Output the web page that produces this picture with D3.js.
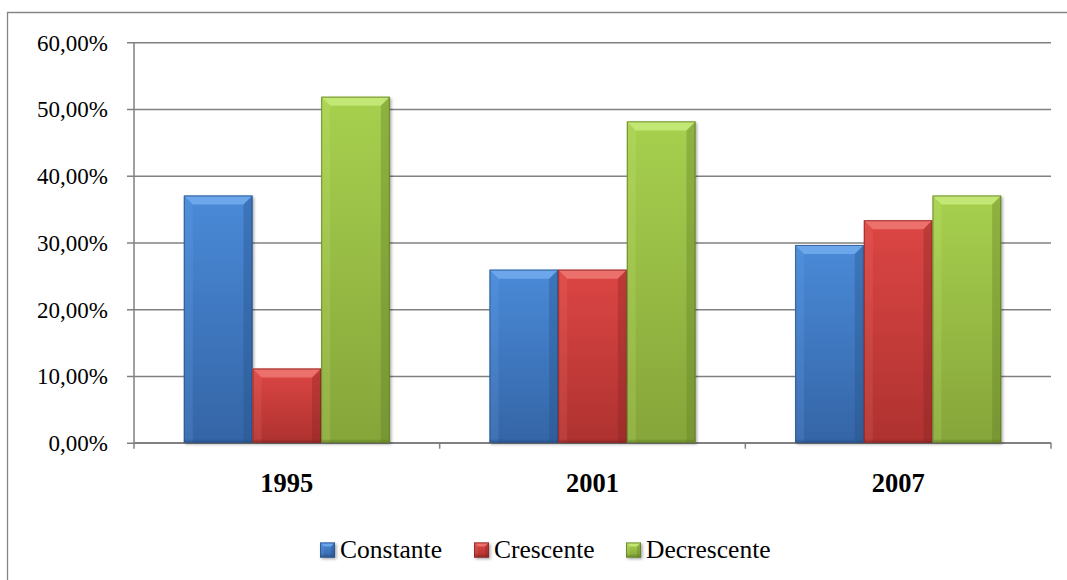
<!DOCTYPE html>
<html>
<head>
<meta charset="utf-8">
<script src="https://cdn.jsdelivr.net/npm/d3@7"></script>
<style>
  html, body { margin: 0; padding: 0; background: #fff; }
  svg { display: block; }
  text { font-family: "Liberation Serif", "Times New Roman", serif; fill: #000; }
</style>
</head>
<body>
<svg id="chart" width="1067" height="580"></svg>
<script>
// Share of municipalities by trend, per census year
const years = ["1995", "2001", "2007"];
const seriesNames = ["Constante", "Crescente", "Decrescente"];
const constante   = [0.3704, 0.2593, 0.2963];
const crescente   = [0.1111, 0.2593, 0.3333];
const decrescente = [0.5185, 0.4815, 0.3704];
const yTicks = [0, 0.1, 0.2, 0.3, 0.4, 0.5, 0.6];

const seriesValues = [constante, crescente, decrescente];
const palette = {
  Constante:   { top: "#4a8ad8", bottom: "#3465a6", bevel: "#76aef0", dark: "#264f85" },
  Crescente:   { top: "#dc4644", bottom: "#ae3230", bevel: "#f07a76", dark: "#852422" },
  Decrescente: { top: "#a7d04e", bottom: "#86a53a", bevel: "#cbec7e", dark: "#5f7a26" }
};

const svg = d3.select("#chart");
const defs = svg.append("defs");

const plot = { left: 134, right: 1051, top: 42.3, bottom: 442.7 };

const pt = d3.formatLocale({ decimal: ",", thousands: ".", grouping: [3], currency: ["", ""] });
const fmt = pt.format(".2%");

const x0 = d3.scaleBand().domain(years).range([plot.left, plot.right])
  .paddingInner(0.326).paddingOuter(0.163);
const x1 = d3.scaleBand().domain(seriesNames).range([0, x0.bandwidth()]).padding(0);
const y = d3.scaleLinear().domain([0, 0.6]).range([plot.bottom, plot.top]);

// gradients and shadow filter
seriesNames.forEach((s, i) => {
  const c = palette[s];
  const g = defs.append("linearGradient").attr("id", "grad" + i)
    .attr("x1", 0).attr("y1", 0).attr("x2", 0).attr("y2", 1);
  g.append("stop").attr("offset", "0%").attr("stop-color", c.top);
  g.append("stop").attr("offset", "100%").attr("stop-color", c.bottom);
});
const f = defs.append("filter").attr("id", "shadow")
  .attr("x", "-20%").attr("y", "-20%").attr("width", "140%").attr("height", "140%");
f.append("feGaussianBlur").attr("stdDeviation", 1.5);

// outer frame
svg.append("path")
  .attr("d", "M7.5,580 L7.5,12.5 L1067,12.5")
  .attr("fill", "none").attr("stroke", "#868686").attr("stroke-width", 1.3);

// horizontal gridlines + y ticks
const yAxis = d3.axisLeft(y).tickValues(yTicks).tickFormat(fmt)
  .tickSize(-(plot.right - plot.left)).tickPadding(0);
const gy = svg.append("g").attr("transform", `translate(${plot.left},0)`).call(yAxis);
gy.select(".domain").remove();
gy.selectAll(".tick line")
  .attr("x1", -7).attr("stroke", "#808080").attr("stroke-width", 1.5);
gy.selectAll(".tick text")
  .attr("x", -26).attr("dy", "0.34em")
  .style("font-family", "'Liberation Serif', 'Times New Roman', serif").style("font-size", "23px")
  .attr("fill", "#000");

// y axis line
svg.append("line")
  .attr("x1", plot.left).attr("x2", plot.left)
  .attr("y1", plot.top).attr("y2", plot.bottom)
  .attr("stroke", "#808080").attr("stroke-width", 1.5);

// x axis line and category separators
svg.append("line")
  .attr("x1", plot.left).attr("x2", plot.right)
  .attr("y1", plot.bottom).attr("y2", plot.bottom)
  .attr("stroke", "#808080").attr("stroke-width", 1.5);
const step = x0.step();
const sepX = years.map((d, i) => plot.left + i * step).concat([plot.right]);
svg.selectAll(".xsep").data(sepX).join("line")
  .attr("x1", d => d).attr("x2", d => d)
  .attr("y1", plot.bottom).attr("y2", plot.bottom + 6)
  .attr("stroke", "#808080").attr("stroke-width", 1.5);

// category labels
svg.selectAll(".cat").data(years).join("text")
  .attr("x", d => x0(d) + x0.bandwidth() / 2)
  .attr("y", 492)
  .attr("text-anchor", "middle")
  .style("font-size", "26.5px").style("font-weight", "bold")
  .text(d => d);

// bevelled bar drawing
function bevelBar(g, x, yTop, w, h, i, b) {
  const c = palette[seriesNames[i]];
  g.append("rect").attr("x", x + 1.5).attr("y", yTop + 1.5).attr("width", w).attr("height", h)
    .attr("fill", "rgba(0,0,0,0.35)").attr("filter", "url(#shadow)");
  g.append("rect").attr("x", x).attr("y", yTop).attr("width", w).attr("height", h)
    .attr("fill", `url(#grad${i})`);
  const bb = Math.min(b, h / 2);
  // top bevel
  g.append("polygon")
    .attr("points", [[x, yTop], [x + w, yTop], [x + w - bb, yTop + bb], [x + bb, yTop + bb]].join(" "))
    .attr("fill", c.bevel).attr("opacity", 0.8);
  // left bevel
  g.append("polygon")
    .attr("points", [[x, yTop], [x + bb, yTop + bb], [x + bb, yTop + h], [x, yTop + h]].join(" "))
    .attr("fill", c.bevel).attr("opacity", 0.18);
  // right bevel
  g.append("polygon")
    .attr("points", [[x + w, yTop], [x + w - bb, yTop + bb], [x + w - bb, yTop + h], [x + w, yTop + h]].join(" "))
    .attr("fill", c.dark).attr("opacity", 0.35);
  // bottom shade
  g.append("rect").attr("x", x).attr("y", yTop + h - 3).attr("width", w).attr("height", 3)
    .attr("fill", c.dark).attr("opacity", 0.35);
  g.append("rect").attr("x", x + 0.5).attr("y", yTop + 0.5).attr("width", w - 1).attr("height", h - 1)
    .attr("fill", "none").attr("stroke", c.dark).attr("stroke-opacity", 0.75).attr("stroke-width", 1);
}

const barsG = svg.append("g");
years.forEach((yr, j) => {
  seriesNames.forEach((s, i) => {
    const v = seriesValues[i][j];
    const bx = x0(yr) + x1(s);
    const by = y(v);
    bevelBar(barsG, bx, by, x1.bandwidth(), plot.bottom - by, i, 9);
  });
});

// legend
const legendX = [320, 474, 626];
const legend = svg.append("g");
seriesNames.forEach((s, i) => {
  const g = legend.append("g");
  bevelBar(g, legendX[i], 542.5, 15, 15, i, 4);
  g.append("text").attr("x", legendX[i] + 20).attr("y", 558)
    .style("font-size", "25.5px").text(s);
});
</script>
</body>
</html>
